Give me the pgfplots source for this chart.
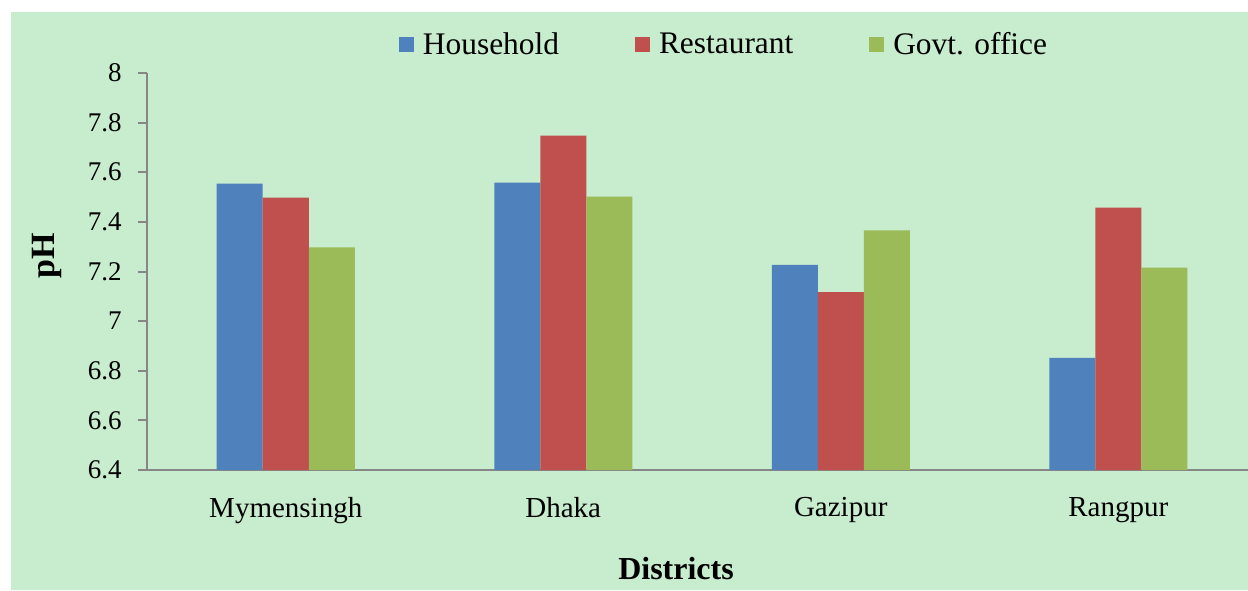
\documentclass[border=0pt]{standalone}
\usepackage{fontspec}
\setmainfont{Liberation Serif}
\usepackage{pgfplots}
\pgfplotsset{compat=1.18}
\definecolor{bgc}{RGB}{199,236,206}
\definecolor{cblue}{RGB}{79,129,189}
\definecolor{cred}{RGB}{192,80,77}
\definecolor{cgreen}{RGB}{155,187,89}
\definecolor{axc}{RGB}{134,134,134}
\begin{document}
\begin{tikzpicture}
\useasboundingbox (0pt,0pt) rectangle (624pt,295pt);
\clip (0pt,0pt) rectangle (624pt,295pt);
\fill[white] (0pt,0pt) rectangle (624pt,295pt);
\fill[bgc] (5.5pt,0pt) rectangle (624pt,289pt);
\begin{axis}[
  at={(73.5pt,60pt)}, anchor=south west,
  scale only axis, width=555pt, height=198.5pt,
  xmin=-0.5, xmax=3.5, ymin=6.4, ymax=8,
  ybar=0pt, bar width=23pt,
  axis x line*=bottom, axis y line*=left,
  axis line style={axc, line width=1pt},
  xtick={0,1,2,3},
  xticklabels={Mymensingh,Dhaka,Gazipur,Rangpur},
  xtick style={draw=none},
  ytick={6.4,6.6,6.8,7,7.2,7.4,7.6,7.8,8},
  ytick style={axc, line width=1pt},
  tick align=outside, major tick length=4.5pt,
  /pgf/number format/assume math mode=true,
  yticklabel style={inner sep=0pt, xshift=-8pt, font=\fontsize{13.5}{15}\selectfont},
  xticklabel style={inner sep=0pt, yshift=-9pt, font=\fontsize{14.5}{16}\selectfont},
  xlabel={Districts}, ylabel={pH},
  xlabel style={font=\fontsize{16}{18}\selectfont\bfseries, at={(axis description cs:0.4766,-0.249)}, anchor=center},
  ylabel style={font=\fontsize{17}{19}\selectfont\bfseries, at={(axis description cs:-0.0901,0.539)}, anchor=center, rotate=0},
  legend columns=3,
  legend style={draw=none, fill=none, inner sep=0pt, outer sep=0pt,
    at={(axis description cs:0.227,1.071)}, anchor=west,
    font=\fontsize{15.7}{18}\selectfont,
    nodes={inner sep=0pt},
    /tikz/every odd column/.append style={column sep=4.5pt},
    /tikz/every even column/.append style={column sep=38pt}},
  legend image code/.code={\fill[#1] (0pt,-3.75pt) rectangle (7.5pt,3.75pt);},
]
\addplot[fill=cblue, draw=none] coordinates {(0,7.554) (1,7.558) (2,7.227) (3,6.852)};
\addplot[fill=cred, draw=none] coordinates {(0,7.498) (1,7.748) (2,7.117) (3,7.457)};
\addplot[fill=cgreen, draw=none] coordinates {(0,7.297) (1,7.502) (2,7.366) (3,7.216)};
\legend{Household, Restaurant, Govt. office}
\end{axis}
\end{tikzpicture}
\end{document}
